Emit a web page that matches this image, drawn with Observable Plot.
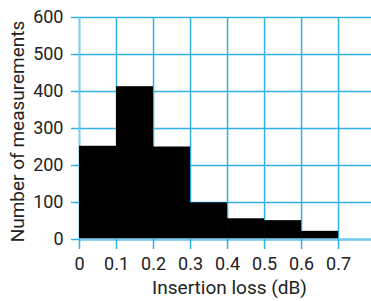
<!DOCTYPE html>
<html><head>
<meta charset="utf-8">
<script src="https://cdn.jsdelivr.net/npm/d3@7"></script>
<script src="https://cdn.jsdelivr.net/npm/@observablehq/plot@0.6"></script>
<style>body{margin:0;background:#fff}</style>
</head><body><div id="chart"></div>
<script>
const binStarts = [0, 0.1, 0.2, 0.3, 0.4, 0.5, 0.6];
const binEnds = [0.1, 0.2, 0.3, 0.4, 0.5, 0.6, 0.7];
const counts = [252, 413, 250, 99, 56, 51, 22];
const xTicks = [0, 0.1, 0.2, 0.3, 0.4, 0.5, 0.6, 0.7];
const xTickLabels = ["0", "0.1", "0.2", "0.3", "0.4", "0.5", "0.6", "0.7"];
const yTicks = [0, 100, 200, 300, 400, 500, 600];
const xLabel = "Insertion loss (dB)";
const yLabel = "Number of measurements";

const data = binStarts.map((x1, i) => ({x1, x2: binEnds[i], y: counts[i]}));
const blue = "#2fb0e6";
const light = "#7ccdf0";

const plot = Plot.plot({
  width: 371, height: 301,
  marginTop: 17, marginLeft: 79, marginRight: 0, marginBottom: 62,
  x: {domain: [0, 0.789]},
  y: {domain: [0, 600]},
  style: {fontFamily: "Roboto", fontSize: "18px", color: "#222", background: "#fff"},
  marks: [
    Plot.gridX(xTicks, {stroke: blue, strokeOpacity: 1, strokeWidth: 1.5}),
    Plot.gridY(yTicks, {stroke: blue, strokeOpacity: 1, strokeWidth: 1.5}),
    Plot.ruleX([0], {stroke: light, strokeWidth: 1.5}),
    Plot.rectY(data, {x1: "x1", x2: "x2", y: "y", fill: "black", inset: 0}),
    Plot.ruleY([0], {stroke: light, strokeWidth: 2.5}),
    Plot.axisY(yTicks, {tickSize: 8, tickPadding: 8, stroke: blue, strokeWidth: 1.5, fill: "#222", label: null, fontSize: 18}),
    Plot.axisX(xTicks, {tickSize: 10, tickPadding: 8, stroke: blue, strokeWidth: 1.5, fill: "#222", label: null, fontSize: 18,
      tickFormat: (d) => xTickLabels[xTicks.indexOf(d)]}),
    Plot.text([xLabel], {frameAnchor: "bottom", dy: 54, dx: 4, fontSize: 19, fill: "#222"}),
    Plot.text([yLabel], {frameAnchor: "left", textAnchor: "middle", dx: -62, dy: 3, rotate: -90, fontSize: 19, fill: "#222"})
  ]
});
document.getElementById("chart").appendChild(plot);
</script>
</body></html>
